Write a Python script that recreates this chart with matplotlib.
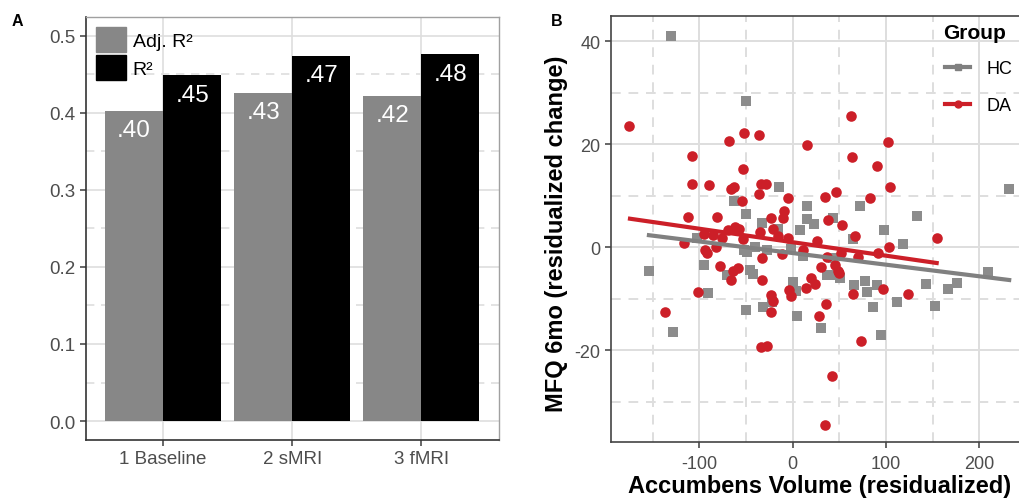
import matplotlib
matplotlib.use("Agg")
import matplotlib.pyplot as plt
from matplotlib.patches import Patch
from matplotlib.lines import Line2D
import numpy as np

plt.rcParams["font.family"] = ["Liberation Sans", "DejaVu Sans"]
plt.rcParams["axes.unicode_minus"] = False

# 数据: A 面板
models = ["1 Baseline", "2 sMRI", "3 fMRI"]
adj_r2 = [0.403, 0.426, 0.422]
r2 = [0.449, 0.474, 0.476]
adj_labels = [".40", ".43", ".42"]
r2_labels = [".45", ".47", ".48"]

# 数据: B 面板 (HC)
hc_x = [-130.4, -50.0, 231.8, -14.3, -62.9, -50.4, 15.0, 72.1, -32.5, 15.7,
        22.9, 43.2, -15.7, 8.2, 133.6, 97.5, 64.3, 118.6, -102.9, -153.9,
        -128.6, -95.4, -90.7, -70.4, -45.7, -42.1, -50.4, -32.1, -51.8, -48.6,
        -40.0, -27.9, -21.8, -1.4, 0.7, 3.9, 4.6, 11.4, 30.4, 36.4,
        45.7, 51.1, 43.6, 65.7, 77.5, 79.3, 86.1, 90.4, 94.3, 112.1,
        142.9, 152.9, 166.8, 175.7, 208.9]
hc_y = [41.0, 28.3, 11.2, 11.7, 9.0, 6.5, 7.9, 7.9, 4.7, 5.4,
        4.5, 5.7, 3.5, 3.4, 6.0, 3.3, 1.5, 0.5, 1.7, -4.6,
        -16.5, -3.5, -9.0, -5.4, -4.4, -5.2, -12.3, -11.7, -0.5, -0.9,
        0.1, -0.5, -10.6, -0.4, -6.8, -8.6, -13.4, -1.7, -15.8, -5.5,
        -5.5, -6.1, -2.1, -7.4, -6.5, -8.7, -11.7, -7.3, -17.0, -10.6,
        -7.1, -11.4, -8.1, -6.9, -4.9]

# 数据: B 面板 (DA)
da_x = [-175.4, 62.5, -52.1, -36.4, -68.6, 15.4, 102.5, -107.5, 63.6, 90.0,
        -53.6, -107.9, -89.3, -33.6, -28.6, -66.4, -62.9, 103.9, 46.4, -54.3,
        -35.7, 34.3, -5.0, 83.2, -9.6, -10.4, -22.9, -111.8, -81.1, 37.5,
        52.5, -69.6, -61.4, -57.9, -35.4, -20.7, -95.0, -85.7, -75.7, -53.6,
        -15.7, -5.0, 67.1, 154.3, -116.4, 26.1, 103.6, -136.4, -101.8, -93.9,
        -91.4, -82.5, -78.2, -63.9, -58.2, -65.7, -32.5, -32.5, -33.6, -27.9,
        -22.9, -21.1, -22.9, -11.8, -3.9, -2.1, 10.7, 14.6, 19.3, 23.9,
        27.9, 30.7, 35.4, 36.4, 35.0, 42.5, 45.0, 48.6, 50.0, 52.1,
        64.6, 70.4, 73.2, 97.1, 91.8, 123.2]
da_y = [23.5, 25.4, 22.1, 21.7, 20.5, 19.9, 20.3, 17.7, 17.5, 15.8,
        15.2, 12.3, 12.1, 12.2, 12.2, 11.3, 11.7, 11.7, 10.6, 9.0,
        10.3, 9.7, 9.5, 9.5, 7.0, 5.6, 5.7, 5.9, 5.8, 5.2,
        4.2, 3.4, 3.8, 3.5, 3.0, 3.5, 2.5, 2.3, 1.8, 1.5,
        2.1, 1.7, 2.1, 1.7, 0.8, 1.1, 0.1, -12.7, -8.8, -0.5,
        -1.2, 0.0, -3.6, -4.7, -4.0, -6.4, -2.1, -6.4, -19.4, -19.2,
        -9.3, -10.5, -12.7, -1.4, -8.3, -9.6, -0.5, -7.9, -6.1, -7.1,
        -13.4, -3.9, -11.1, -1.9, -34.6, -25.1, -3.5, -4.7, -5.0, -1.2,
        -9.1, -1.9, -18.3, -8.1, -1.2, -9.1]

# 回归线端点 (图上读出)
hc_fit_x = [-154.0, 232.0]
hc_fit_y = [2.3, -6.4]
da_fit_x = [-174.3, 154.3]
da_fit_y = [5.5, -3.1]

GRID = "#dedede"
TXT = "#4d4d4d"
GRAY = "#878787"
PT_GRAY = "#8c8c8c"
LINE_GRAY = "#808080"
RED = "#cc1f28"

fig = plt.figure(figsize=(10.2, 5.02), dpi=100)

# ---------- A ----------
ax1 = fig.add_axes([0.084, 0.122, 0.405, 0.8415])
pos = np.arange(1, len(models) + 1)
w = 0.45
ax1.bar(pos - w / 2, adj_r2, width=w, color=GRAY, zorder=3)
ax1.bar(pos + w / 2, r2, width=w, color="black", zorder=3)
for i in range(len(models)):
    ax1.annotate(adj_labels[i], (pos[i] - w / 2, adj_r2[i]), xytext=(0, -14),
                 textcoords="offset points", ha="center", va="center",
                 color="white", fontsize=17.5, zorder=4)
    ax1.annotate(r2_labels[i], (pos[i] + w / 2, r2[i]), xytext=(0, -14),
                 textcoords="offset points", ha="center", va="center",
                 color="white", fontsize=17.5, zorder=4)
ax1.set_xlim(0.4, 3.6)
ax1.set_ylim(-0.0243, 0.524)
ax1.set_xticks(pos)
ax1.set_xticklabels(models)
ax1.set_yticks([0.0, 0.1, 0.2, 0.3, 0.4, 0.5])
ax1.set_yticks([0.05, 0.15, 0.25, 0.35, 0.45], minor=True)
ax1.grid(True, which="major", color=GRID, lw=1.2, zorder=0)
ax1.grid(True, which="minor", axis="y", color=GRID, lw=1.2, ls=(0, (5, 4)), zorder=0)
ax1.tick_params(axis="both", which="major", labelsize=13.5, colors=TXT, length=4, width=1.2)
ax1.tick_params(axis="both", which="minor", length=0)
for s in ["left", "bottom"]:
    ax1.spines[s].set_color("#333333")
    ax1.spines[s].set_linewidth(1.2)
for s in ["top", "right"]:
    ax1.spines[s].set_color("#a0a0a0")
    ax1.spines[s].set_linewidth(1.0)
ax1.legend(handles=[Patch(color=GRAY, label="Adj. R²"), Patch(color="black", label="R²")],
           loc="upper left", bbox_to_anchor=(0.024, 0.976), borderaxespad=0, borderpad=0,
           frameon=False, fontsize=14, handlelength=1.55, handleheight=1.55,
           labelspacing=0.18, handletextpad=0.36)
fig.text(0.0115, 0.948, "A", fontsize=11.5, fontweight="bold")

# ---------- B ----------
ax2 = fig.add_axes([0.5987, 0.1181, 0.409, 0.8474])
ax2.scatter(hc_x, hc_y, marker="s", s=45, color=PT_GRAY, linewidths=0, zorder=3)
ax2.scatter(da_x, da_y, marker="o", s=58, color=RED, linewidths=0, zorder=3)
ax2.plot(hc_fit_x, hc_fit_y, color=LINE_GRAY, lw=3, zorder=4)
ax2.plot(da_fit_x, da_fit_y, color=RED, lw=3, zorder=4)
ax2.set_xlim(-195, 252)
ax2.set_ylim(-37.8, 44.8)
ax2.set_xticks([-100, 0, 100, 200])
ax2.set_xticks([-150, -50, 50, 150], minor=True)
ax2.set_yticks([-20, 0, 20, 40])
ax2.set_yticks([-30, -10, 10, 30], minor=True)
ax2.grid(True, which="major", color=GRID, lw=1.4, zorder=0)
ax2.grid(True, which="minor", color=GRID, lw=1.4, ls=(0, (5, 4)), zorder=0)
ax2.tick_params(axis="both", which="major", labelsize=13, colors=TXT, length=4, width=1.2)
ax2.tick_params(axis="x", which="major", pad=5.5)
ax2.tick_params(axis="both", which="minor", length=0)
for s in ["left", "bottom", "top"]:
    ax2.spines[s].set_color("#444444")
    ax2.spines[s].set_linewidth(1.2)
ax2.set_xlabel("Accumbens Volume (residualized)", fontsize=17, fontweight="bold")
ax2.set_ylabel("MFQ 6mo (residualized change)", fontsize=17, fontweight="bold")
ax2.xaxis.set_label_coords(0.5, -0.077)
ax2.yaxis.set_label_coords(-0.102, 0.49)

# 图例 (Group)
fig.text(943 / 1020, 1 - 39 / 502, "Group", fontsize=15, fontweight="bold")
leg_handles = [
    Line2D([], [], color=LINE_GRAY, lw=3, marker="s", markersize=5, label="HC"),
    Line2D([], [], color=RED, lw=3, marker="o", markersize=5, label="DA"),
]
ax2.legend(handles=leg_handles, loc="upper left",
           bbox_to_anchor=(945 / 1020, 1 - 61 / 502), bbox_transform=fig.transFigure,
           frameon=False, fontsize=13, handlelength=1.4, labelspacing=1.1,
           borderpad=0, borderaxespad=0, handletextpad=0.9)
fig.text(551 / 1020, 0.948, "B", fontsize=11.5, fontweight="bold")

fig.savefig("out.png", dpi=100)
